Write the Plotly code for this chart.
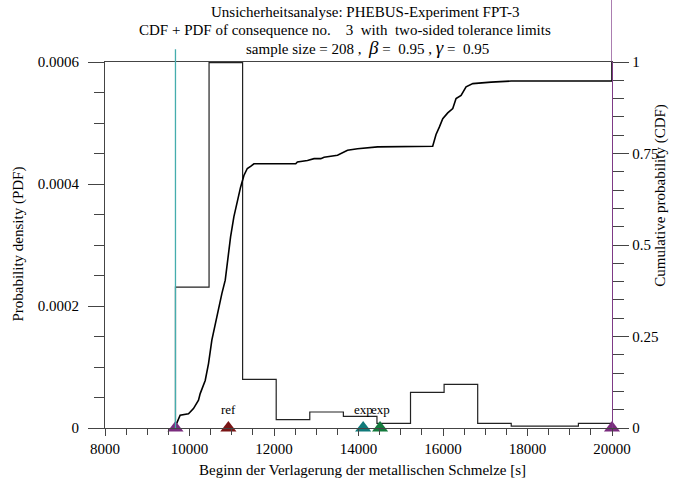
import plotly.graph_objects as go

# ---- data ----
bin_edges = [9668, 10463, 11257, 12052, 12847, 13642, 14437, 15231, 16026, 16821, 17615, 18410, 19205, 20000]
pdf_values = [0.000231, 0.000599, 0.0000798, 0.0000136, 0.0000262, 0.000019, 0.0000075,
              0.0000585, 0.0000716, 0.0000075, 0.000003, 0.000003, 0.0000075]

cdf_x = [9668, 9779, 9976, 10094, 10213, 10253, 10372, 10450, 10529, 10609, 10687, 10766, 10846,
         10894, 10972, 11050, 11131, 11209, 11288, 11328, 11368, 11446, 11525, 12514, 12554, 12791,
         12948, 13107, 13185, 13503, 13581, 13740, 13977, 14452, 15756, 15835, 15913, 15994, 16112,
         16231, 16309, 16428, 16546, 16705, 17139, 17614, 20000, 20000]
cdf_y = [0.005, 0.035, 0.039, 0.053, 0.076, 0.094, 0.130, 0.176, 0.240, 0.285, 0.322, 0.367, 0.404,
         0.449, 0.522, 0.577, 0.622, 0.658, 0.690, 0.702, 0.709, 0.715, 0.722, 0.722, 0.727, 0.731,
         0.736, 0.736, 0.740, 0.745, 0.750, 0.759, 0.763, 0.768, 0.770, 0.802, 0.822, 0.845, 0.861,
         0.873, 0.900, 0.909, 0.932, 0.941, 0.945, 0.948, 0.948, 1.0]

lower_limit = 9668
upper_limit = 20000

marker_x = [9668, 20000, 10920, 14110, 14510]
marker_labels = ["", "", "ref", "exp", "exp"]
marker_colors = ["#7a2c7e", "#7a2c7e", "#7a1515", "#107a7a", "#137a3c"]

x_ticks = [8000, 10000, 12000, 14000, 16000, 18000, 20000]
pdf_ticks = [0, 0.0002, 0.0004, 0.0006]
pdf_ticktext = ["0", "0.0002", "0.0004", "0.0006"]
cdf_ticks = [0, 0.25, 0.5, 0.75, 1]
cdf_ticktext = ["0", "0.25", "0.5", "0.75", "1"]

FONT = "Liberation Serif"
AXC = "#444444"
PURPLE = "#7e3a86"
TEAL = "#45adad"

# step histogram
hx = [bin_edges[0]] + bin_edges[:-1] + [bin_edges[-1], bin_edges[-1]]
hy = [0] + pdf_values + [pdf_values[-1], 0]

fig = go.Figure()
fig.add_trace(go.Scatter(x=hx, y=hy, mode="lines", line=dict(color="#222222", width=1.2, shape="hv"),
                         showlegend=False, hoverinfo="skip"))
fig.add_trace(go.Scatter(x=cdf_x, y=cdf_y, yaxis="y2", mode="lines",
                         line=dict(color="black", width=1.6), showlegend=False, hoverinfo="skip"))
fig.add_trace(go.Scatter(x=marker_x, y=[0] * len(marker_x), yaxis="y2", mode="markers",
                         marker=dict(symbol="triangle-up", size=14, color=marker_colors),
                         cliponaxis=False, showlegend=False, hoverinfo="skip"))

# tolerance limit lines
fig.add_shape(type="line", xref="x", yref="paper", x0=lower_limit, x1=lower_limit, y0=0, y1=1.035,
              line=dict(color=TEAL, width=1.3), layer="above")
fig.add_shape(type="line", xref="x", yref="paper", x0=upper_limit, x1=upper_limit, y0=1, y1=1.17,
              line=dict(color=PURPLE, width=1.3), layer="above")

annotations = []
for xv, lab in zip(marker_x, marker_labels):
    if lab:
        annotations.append(dict(x=xv, y=0, xref="x", yref="y2", text=lab, showarrow=False,
                                yshift=19, font=dict(family=FONT, size=13, color="black")))

annotations += [
    dict(x=0.513, y=1.136, xref="paper", yref="paper", text="Unsicherheitsanalyse: PHEBUS-Experiment FPT-3",
         showarrow=False, font=dict(family=FONT, size=15, color="black"), xanchor="center", yanchor="middle"),
    dict(x=0.474, y=1.0866, xref="paper", yref="paper",
         text="CDF + PDF of consequence no.\u00a0\u00a0\u00a0 3\u00a0 with\u00a0 two-sided tolerance limits",
         showarrow=False, font=dict(family=FONT, size=15, color="black"), xanchor="center", yanchor="middle"),
    dict(x=0.517, y=1.040, xref="paper", yref="paper",
         text="sample size = 208 ,\u00a0 <i><span style='font-size:19px'>β</span></i> =\u00a0 0.95 , "
              "<i><span style='font-size:19px'>γ</span></i> =\u00a0 0.95",
         showarrow=False, font=dict(family=FONT, size=15, color="black"), xanchor="center", yanchor="middle"),
    dict(x=-0.171, y=0.502, xref="paper", yref="paper", text="Probability density (PDF)", textangle=-90,
         showarrow=False, font=dict(family=FONT, size=15, color="black"), xanchor="center", yanchor="middle"),
    dict(x=1.0955, y=0.636, xref="paper", yref="paper", text="Cumulative probability (CDF)", textangle=-90,
         showarrow=False, font=dict(family=FONT, size=15, color="black"), xanchor="center", yanchor="middle"),
    dict(x=0.508, y=-0.115, xref="paper", yref="paper",
         text="Beginn der Verlagerung der metallischen Schmelze [s]",
         showarrow=False, font=dict(family=FONT, size=15, color="black"), xanchor="center", yanchor="middle"),
]

fig.update_layout(
    width=682, height=486,
    margin=dict(l=105, r=70, t=62, b=58),
    paper_bgcolor="white", plot_bgcolor="white",
    font=dict(family=FONT, size=15, color="black"),
    showlegend=False,
    annotations=annotations,
    xaxis=dict(range=[8000, 20000], tickvals=x_ticks, ticktext=[str(v) for v in x_ticks],
               showgrid=False, zeroline=False, showline=True, linecolor=AXC, linewidth=1, mirror=True,
               ticks="outside", ticklen=7, tickcolor=AXC, tickfont=dict(family=FONT, size=15),
               minor=dict(dtick=500, tick0=8000, ticks="outside", ticklen=6, tickcolor=AXC, showgrid=False)),
    yaxis=dict(range=[0, 0.0006], tickvals=pdf_ticks, ticktext=pdf_ticktext,
               showgrid=False, zeroline=False, showline=True, linecolor=AXC, linewidth=1,
               ticks="outside", ticklen=16, tickcolor=AXC, tickfont=dict(family=FONT, size=15),
               ticklabelstandoff=6,
               minor=dict(dtick=0.00005, tick0=0, ticks="outside", ticklen=10, tickcolor=AXC, showgrid=False)),
    yaxis2=dict(range=[0, 1], overlaying="y", side="right", tickvals=cdf_ticks, ticktext=cdf_ticktext,
                showgrid=False, zeroline=False, showline=True, linecolor=PURPLE, linewidth=1.3,
                ticks="outside", ticklen=16, tickcolor=AXC, tickfont=dict(family=FONT, size=15),
                ticklabelstandoff=0,
                minor=dict(dtick=0.05, tick0=0, ticks="outside", ticklen=11, tickcolor=AXC, showgrid=False)),
)

fig.write_html("out.html")
